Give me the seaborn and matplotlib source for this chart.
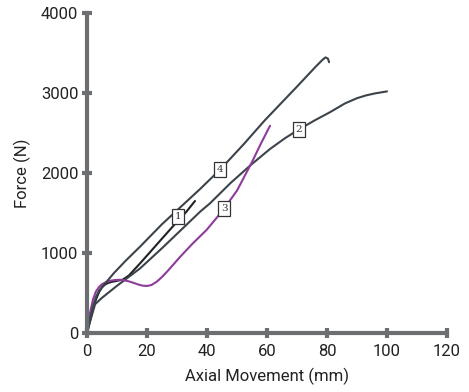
import numpy as np
import pandas as pd
import matplotlib
matplotlib.use("Agg")
import matplotlib.pyplot as plt
import seaborn as sns

# curve data (axial movement mm, force N)
x1 = [0, 1, 2, 3, 4, 5, 6, 7, 8, 10, 12, 14, 17.7, 21, 25, 30, 33, 36]
f1 = [0, 150, 300, 420, 510, 570, 605, 625, 637, 652, 668, 720, 871, 1010, 1180, 1390, 1510, 1650]

x2 = [0, 1, 2, 2.7, 5, 10, 17.7, 25, 37.7, 41, 48, 54.9, 61, 66, 70.7, 76, 81, 86, 90, 93, 96, 100]
f2 = [0, 140, 270, 360, 440, 590, 808, 1060, 1516, 1621, 1880, 2110, 2300, 2435, 2546, 2660, 2760, 2870,
      2935, 2970, 2995, 3020]

x3 = [0, 1, 2, 3, 4, 5, 6.5, 8, 9.5, 11, 12.5, 14, 15.5, 17, 18.5, 20, 21.5, 23.2, 25, 27, 29, 31, 35,
      39.9, 45, 50, 54.9, 58, 61]
f3 = [0, 250, 420, 520, 575, 610, 638, 655, 663, 665, 658, 645, 627, 607, 592, 588, 600, 640, 700, 780, 865,
      950, 1110, 1290, 1520, 1780, 2130, 2370, 2590]

x4 = [0, 1, 2, 3, 4, 5.6, 9, 12.8, 17.7, 25, 37.7, 44.3, 52, 59.3, 70, 76, 78.5, 79.5, 80.3, 80.7]
f4 = [0, 180, 330, 450, 530, 600, 750, 900, 1080, 1360, 1800, 2040, 2350, 2660, 3080, 3320, 3415, 3445, 3430, 3385]

labels = ["1", "2", "3", "4"]
label_pos_x = [30.4, 70.7, 45.7, 44.3]
label_pos_y = [1454, 2546, 1558, 2040]

colors = ["#1f2124", "#3b434b", "#8e3b9c", "#3b434b"]

frames = []
for name, xs, fs in zip(labels, [x1, x2, x3, x4], [f1, f2, f3, f4]):
    frames.append(pd.DataFrame({"x": xs, "force": fs, "curve": name}))
df = pd.concat(frames, ignore_index=True)

sns.set_style("white")
plt.rcParams["font.family"] = ["Roboto", "DejaVu Sans"]

fig = plt.figure(figsize=(4.69, 3.92), dpi=100)
ax = fig.add_axes([87 / 469, 59 / 392, 360 / 469, 320 / 392])

sns.lineplot(data=df, x="x", y="force", hue="curve", palette=dict(zip(labels, colors)),
             sort=False, estimator=None, linewidth=1.5, legend=False, ax=ax)

for lab, lx, ly in zip(labels, label_pos_x, label_pos_y):
    ax.text(lx, ly, lab, ha="center", va="center", fontsize=7.5, family="DejaVu Serif",
            color="#333333", zorder=5,
            bbox=dict(boxstyle="square,pad=0.28", fc="white", ec="#333333", lw=0.9))

ax.set_xlim(0, 120)
ax.set_ylim(0, 4000)
ax.set_xticks(np.arange(0, 121, 20))
ax.set_yticks(np.arange(0, 4001, 1000))

grey = "#6d6e71"
for side in ["top", "right"]:
    ax.spines[side].set_visible(False)
for side in ["left", "bottom"]:
    ax.spines[side].set_color(grey)
    ax.spines[side].set_linewidth(3)
    ax.spines[side].set_zorder(6)
ax.tick_params(axis="both", bottom=True, left=True, direction="inout", length=6.5, width=3,
               color=grey, labelsize=12, labelcolor="#222222")
ax.tick_params(axis="x", pad=5)
ax.tick_params(axis="y", pad=3)

ax.set_xlabel("Axial Movement (mm)", fontsize=12, color="#222222", labelpad=6)
ax.set_ylabel("Force (N)", fontsize=12, color="#222222", labelpad=7)

fig.savefig("out.png", dpi=100)
